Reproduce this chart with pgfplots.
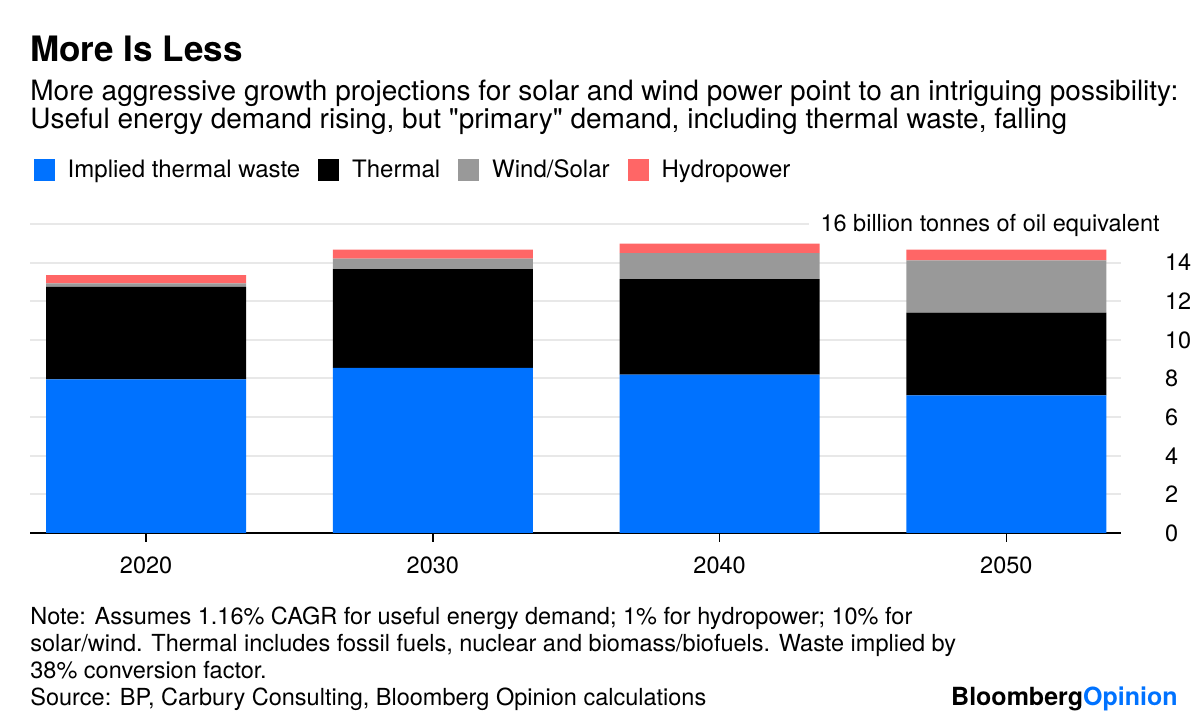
\documentclass[border=0pt]{standalone}
\usepackage{pgfplots}
\pgfplotsset{compat=1.18}
\usepackage{fontspec}
\setmainfont{TeX Gyre Heros}
\definecolor{cblue}{HTML}{0072FF}
\definecolor{cgray}{HTML}{999999}
\definecolor{cred}{HTML}{FF6666}
\definecolor{cgrid}{HTML}{E8E8E8}
\begin{document}
\begin{tikzpicture}[x=0.5pt,y=0.5pt]
\path[use as bounding box] (0,0) rectangle (1200,726);
\begin{axis}[
  at={(15pt,96.5pt)}, anchor=south west,
  scale only axis, width=545.5pt, height=154.5pt,
  ybar stacked, bar width=100pt,
  xmin=-0.405, xmax=3.40, ymin=0, ymax=16,
  xtick={0,1,2,3}, xticklabels={2020,2030,2040,2050},
  ytick={0,2,4,6,8,10,12,14,16}, yticklabels={0,2,4,6,8,10,12,14,{}},
  separate axis lines,
  axis x line*=bottom, axis y line*=right,
  x axis line style={line width=1pt, black, -},
  y axis line style={draw=none},
  xtick style={black, line width=0.8pt}, major tick length=4.5pt, tick align=outside,
  ytick style={draw=none},
  ymajorgrids, grid style={cgrid, line width=1pt},
  /pgf/number format/assume math mode=true,
  tick label style={font=\fontsize{11.75}{14}\selectfont},
  yticklabel style={anchor=west},
  yticklabel shift=14pt,
  xticklabel style={yshift=-4pt},
  legend columns=-1,
  legend style={at={(rel axis cs:0.003,1.175)}, anchor=west, draw=none, fill=none,
     font=\fontsize{12}{14}\selectfont, inner sep=0pt,
     /tikz/every odd column/.append style={column sep=4.5pt},
     /tikz/every even column/.append style={column sep=7pt}},
  legend image code/.code={\fill[#1] (0pt,-5.5pt) rectangle (10.5pt,5.5pt);},
]
\addplot[fill=cblue, draw=none] coordinates {(0,7.96) (1,8.55) (2,8.20) (3,7.13)};
\addplot[fill=black, draw=none] coordinates {(0,4.79) (1,5.11) (2,4.94) (3,4.28)};
\addplot[fill=cgray, draw=none] coordinates {(0,0.17) (1,0.54) (2,1.35) (3,2.71)};
\addplot[fill=cred, draw=none] coordinates {(0,0.43) (1,0.47) (2,0.49) (3,0.55)};
\legend{Implied thermal waste, Thermal, Wind/Solar, Hydropower}
\end{axis}
\node[anchor=base east, fill=white, inner xsep=6pt, inner ysep=2pt, font=\fontsize{11.75}{14}\selectfont] at (1172,494) {16 billion tonnes of oil equivalent};
\node[anchor=base west, inner sep=0pt, font=\fontsize{17.5}{22}\selectfont\bfseries] at (30,664) {More Is Less};
\node[anchor=base west, inner sep=0pt, font=\fontsize{14}{16}\selectfont] at (30,625) {More aggressive growth projections for solar and wind power point to an intriguing possibility:};
\node[anchor=base west, inner sep=0pt, font=\fontsize{14}{16}\selectfont] at (30,597) {Useful energy demand rising, but \textquotedbl primary\textquotedbl{} demand, including thermal waste, falling};
\node[anchor=base west, inner sep=0pt, font=\fontsize{11.75}{14}\selectfont] at (30,101) {Note: Assumes 1.16\% CAGR for useful energy demand; 1\% for hydropower; 10\% for};
\node[anchor=base west, inner sep=0pt, font=\fontsize{11.75}{14}\selectfont] at (30,74) {solar/wind. Thermal includes fossil fuels, nuclear and biomass/biofuels. Waste implied by};
\node[anchor=base west, inner sep=0pt, font=\fontsize{11.75}{14}\selectfont] at (30,47) {38\% conversion factor.};
\node[anchor=base west, inner sep=0pt, font=\fontsize{11.75}{14}\selectfont] at (30,20) {Source: BP, Carbury Consulting, Bloomberg Opinion calculations};
\node[anchor=base east, inner sep=0pt, font=\fontsize{12.5}{14}\selectfont\bfseries] at (1178,20) {Bloomberg\textcolor{cblue}{Opinion}};
\end{tikzpicture}
\end{document}
